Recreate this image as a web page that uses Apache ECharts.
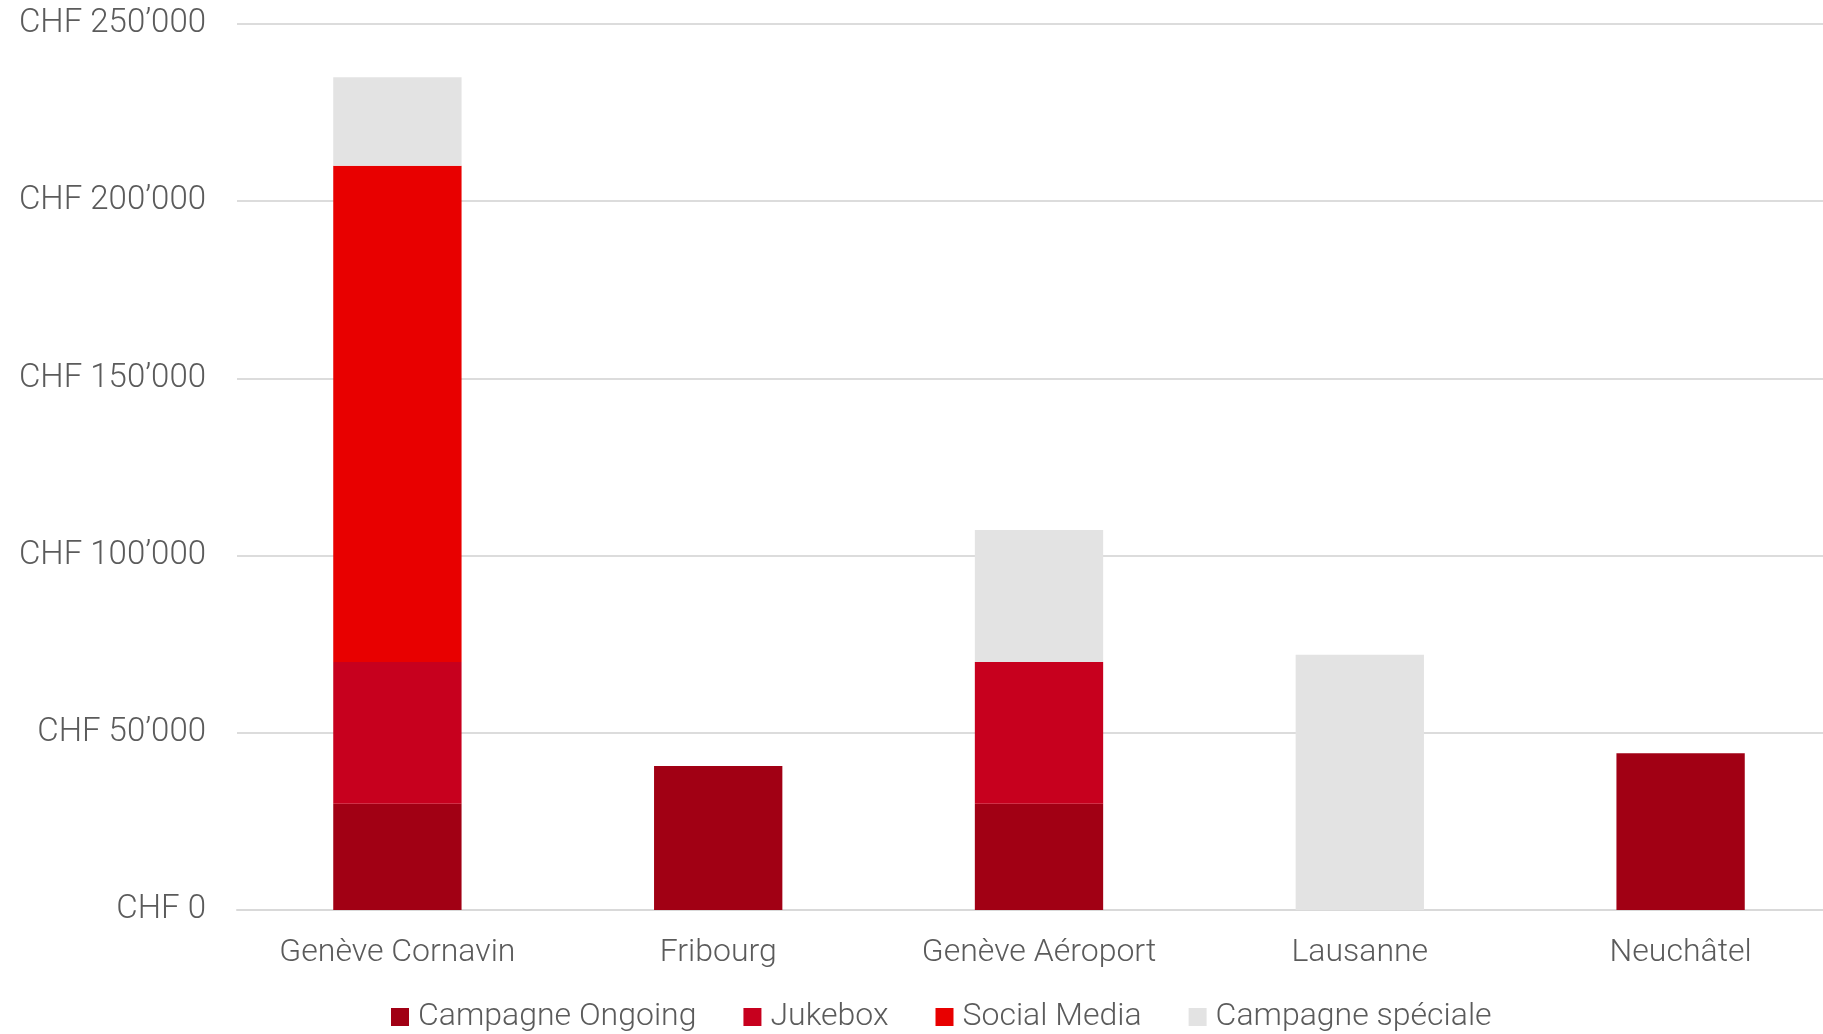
<!DOCTYPE html>
<html>
<head>
<meta charset="utf-8">
<script src="https://cdn.jsdelivr.net/npm/echarts@6/dist/echarts.min.js"></script>
<style>
html,body{margin:0;padding:0;background:#fff;}
#chart{width:1823px;height:1034px;}
</style>
</head>
<body>
<div id="chart"></div>
<script>
const categories = ['Genève Cornavin', 'Fribourg', 'Genève Aéroport', 'Lausanne', 'Neuchâtel'];
const seriesNames = ['Campagne Ongoing', 'Jukebox', 'Social Media', 'Campagne spéciale'];
const campagneOngoing = [30000, 40600, 30000, 0, 44200];
const jukebox = [40000, 0, 40000, 0, 0];
const socialMedia = [140000, 0, 0, 0, 0];
const campagneSpeciale = [25000, 0, 37200, 72000, 0];
const yTickLabels = ['CHF 0', 'CHF 50’000', 'CHF 100’000', 'CHF 150’000', 'CHF 200’000', 'CHF 250’000'];
const colors = ['#A10014', '#C7001E', '#E80000', '#E3E3E3'];

const FONT = 'Roboto';
const TXT = '#5B5B5B';
const dataSets = [campagneOngoing, jukebox, socialMedia, campagneSpeciale];

const chart = echarts.init(document.getElementById('chart'), null, {renderer: 'canvas'});
chart.setOption({
  animation: false,
  backgroundColor: '#fff',
  color: colors,
  grid: {left: 237, width: 1604, top: 24, bottom: 124, containLabel: false, outerBoundsMode: 'none'},
  legend: {
    data: seriesNames,
    left: 386,
    top: 994,
    icon: 'rect',
    itemWidth: 18,
    itemHeight: 18,
    itemGap: 47,
    textStyle: {fontFamily: FONT, fontWeight: 300, fontSize: 32, color: TXT, padding: [0, 0, 0, 4], lineHeight: 36}
  },
  xAxis: {
    type: 'category',
    data: categories,
    axisLine: {show: true, lineStyle: {color: '#D9D9D9', width: 2}},
    axisTick: {show: false},
    axisLabel: {fontFamily: FONT, fontWeight: 300, fontSize: 32, color: TXT, margin: 27}
  },
  yAxis: {
    type: 'value',
    min: 0, max: 250000, interval: 50000,
    axisLine: {show: false},
    axisTick: {show: false},
    splitLine: {lineStyle: {color: '#DCDCDC', width: 2}},
    axisLabel: {
      fontFamily: FONT, fontWeight: 300, fontSize: 33, color: TXT, margin: 31,
      formatter: function (v) { return yTickLabels[Math.round(v / 50000)]; }
    }
  },
  series: seriesNames.map((name, i) => ({
    name: name,
    type: 'bar',
    stack: 'total',
    barWidth: '40%',
    data: dataSets[i].map(v => v === 0 ? null : v),
    itemStyle: {color: colors[i]}
  }))
});
</script>
</body>
</html>
